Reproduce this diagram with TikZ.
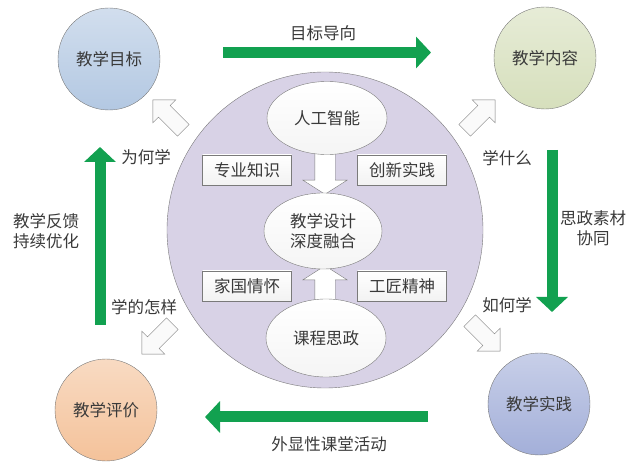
\documentclass[tikz,border=0pt]{standalone}
\usepackage{fontspec}
\newfontfamily\cjk{Noto Sans CJK SC}
\usetikzlibrary{shapes.geometric,shapes.arrows,arrows.meta}

\definecolor{txtgray}{HTML}{3A3A3A}
\definecolor{edgegray}{HTML}{7A7A7A}
\definecolor{arrowgreen}{HTML}{12A150}
\definecolor{goalblue}{HTML}{B3C8E2}
\definecolor{contentgreen}{HTML}{D6DFBC}
\definecolor{evalpeach}{HTML}{F4C29A}
\definecolor{practiceblue}{HTML}{A3AFD9}
\definecolor{bigpurple}{HTML}{D8D2E6}

\begin{document}
\begin{tikzpicture}[x=1pt,y=-1pt,
    font=\cjk\fontsize{16.5}{20}\selectfont,
    every node/.style={text=txtgray},
    stage/.style={circle,draw=edgegray,minimum size=102pt,inner sep=0pt},
    idea/.style={ellipse,draw=edgegray,top color=white,bottom color=gray!8,inner sep=0pt},
    tag/.style={rectangle,draw=edgegray,top color=white,bottom color=gray!10,
        minimum width=89pt,minimum height=30pt,inner sep=0pt},
    hollow/.style={single arrow,draw=edgegray,fill=gray!4,
        inner sep=8pt,single arrow head extend=8pt,minimum height=43pt},
    inner/.style={single arrow,draw=edgegray,fill=white,inner sep=10pt,
        single arrow head extend=12pt,single arrow tip angle=115,minimum height=42pt},
    flow/.style={draw=arrowgreen,line width=11pt,-{Triangle[length=15pt,width=31pt]}}]

    \useasboundingbox (0,0) rectangle (630,465);

    % four stages
    \node[stage,top color=goalblue!60!white,bottom color=goalblue] at (109,59) (goal) {教学目标};
    \node[stage,top color=contentgreen!60!white,bottom color=contentgreen] at (545,58) (content) {教学内容};
    \node[stage,top color=practiceblue!60!white,bottom color=practiceblue] at (539,404) (practice) {教学实践};
    \node[stage,top color=evalpeach!60!white,bottom color=evalpeach] at (106,410) (eval) {教学评价};

    % centre
    \node[circle,draw=edgegray,fill=bigpurple,minimum size=316pt] at (325,230) (big) {};

    \node[inner,rotate=-90] at (325,170) (down) {};
    \node[inner,rotate=90] at (325,290) (up) {};

    \node[idea,minimum width=120pt,minimum height=73pt] at (327,118) (ai) {人工智能};
    \node[idea,minimum width=118pt,minimum height=76pt,align=center] at (323,231) (design) {教学设计\\深度融合};
    \node[idea,minimum width=120pt,minimum height=78pt] at (326,338) (ideo) {课程思政};

    \node[tag] at (247,170) (know) {专业知识};
    \node[tag] at (402,170) (inno) {创新实践};
    \node[tag] at (247,286) (home) {家国情怀};
    \node[tag] at (402,286) (craft) {工匠精神};

    % hollow arrows
    \node[hollow,rotate=135] at (171,118) (whyArr) {};
    \node[hollow,rotate=45] at (477,118) (whatArr) {};
    \node[hollow,rotate=-45] at (482,333) (howArr) {};
    \node[hollow,rotate=-135] at (160,336) (wellArr) {};

    % green flow
    \coordinate (topS) at (223,52.5);
    \coordinate (topE) at (431,52.5);
    \coordinate (rightS) at (552,150);
    \coordinate (rightE) at (552,312);
    \coordinate (botS) at (428,417);
    \coordinate (botE) at (205,417);
    \coordinate (leftS) at (100,325);
    \coordinate (leftE) at (100,147);

    \draw[flow] (topS) -- (topE);
    \draw[flow] (rightS) -- (rightE);
    \draw[flow] (botS) -- (botE);
    \draw[flow] (leftS) -- (leftE);

    % labels
    \node at (323,33) (guide) {目标导向};
    \node at (507,158) (what) {学什么};
    \node[align=center] at (593,228) (mat) {思政素材\\协同};
    \node at (507,305) (how) {如何学};
    \node at (329,444) (act) {外显性课堂活动};
    \node at (144,307) (well) {学的怎样};
    \node[align=center] at (46,231) (fb) {教学反馈\\持续优化};
    \node at (146,157) (why) {为何学};
\end{tikzpicture}
\end{document}
